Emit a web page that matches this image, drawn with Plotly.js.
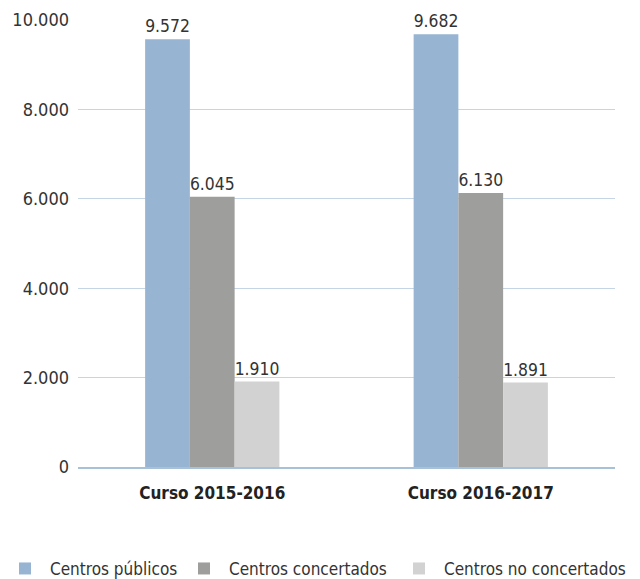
<!DOCTYPE html>
<html><head><meta charset="utf-8">
<script src="https://cdn.plot.ly/plotly-3.0.1.min.js"></script>
<style>body{margin:0;background:#fff}#c{width:640px;height:579px}</style>
</head><body><div id="c"></div>
<script>
const categories = ["Curso 2015-2016", "Curso 2016-2017"];
const publicos = [9572, 9682];
const concertados = [6045, 6130];
const noConcertados = [1910, 1891];
const seriesNames = ["Centros públicos", "Centros concertados", "Centros no concertados"];
const tickVals = [0, 2000, 4000, 6000, 8000, 10000];

const font = "DejaVu Sans Condensed, Liberation Sans Narrow, sans-serif";
const colors = ["#97b5d3", "#9e9e9c", "#d2d2d2"];
const legendIds = ["legend", "legend2", "legend3"];
const legendX = [-7 / 640, 179 / 640, 394 / 640];
const vals = [publicos, concertados, noConcertados];
const traces = vals.map((v, i) => ({
  type: "bar", x: categories, y: v, name: seriesNames[i],
  marker: {color: colors[i]}, legend: legendIds[i],
  text: v, texttemplate: "%{y:,}", textposition: "outside",
  textfont: {family: font, size: 18, color: "#333"},
  cliponaxis: false, hoverinfo: "none"
}));
const layout = {
  width: 640, height: 579,
  margin: {l: 78, r: 25, t: 20, b: 112, autoexpand: false},
  separators: ",.",
  barmode: "group", bargap: 0.5, bargroupgap: 0,
  font: {family: font, size: 18, color: "#333"},
  xaxis: {tickfont: {family: font, size: 17, color: "#222", weight: "bold"}, showline: true, linecolor: "#a9c0d9", linewidth: 2, ticks: "", showgrid: false, automargin: false, ticklabelstandoff: 10},
  yaxis: {range: [0, 10000], tickvals: tickVals, tickformat: ",", gridcolor: "#c5d5e6", gridwidth: 1, zeroline: false, showline: false, ticks: "", ticklen: 0, tickfont: {family: font, size: 18, color: "#333"}, automargin: false, ticklabelstandoff: 8},
  showlegend: true,
  plot_bgcolor: "#fff", paper_bgcolor: "#fff"
};
legendIds.forEach((id, i) => {
  layout[id] = {orientation: "h", xref: "container", x: legendX[i], xanchor: "left", y: -0.228, yanchor: "middle", font: {family: font, size: 17, color: "#333"}, itemwidth: 40, bgcolor: "rgba(0,0,0,0)"};
});
Plotly.newPlot("c", traces, layout, {staticPlot: true});
</script></body></html>
